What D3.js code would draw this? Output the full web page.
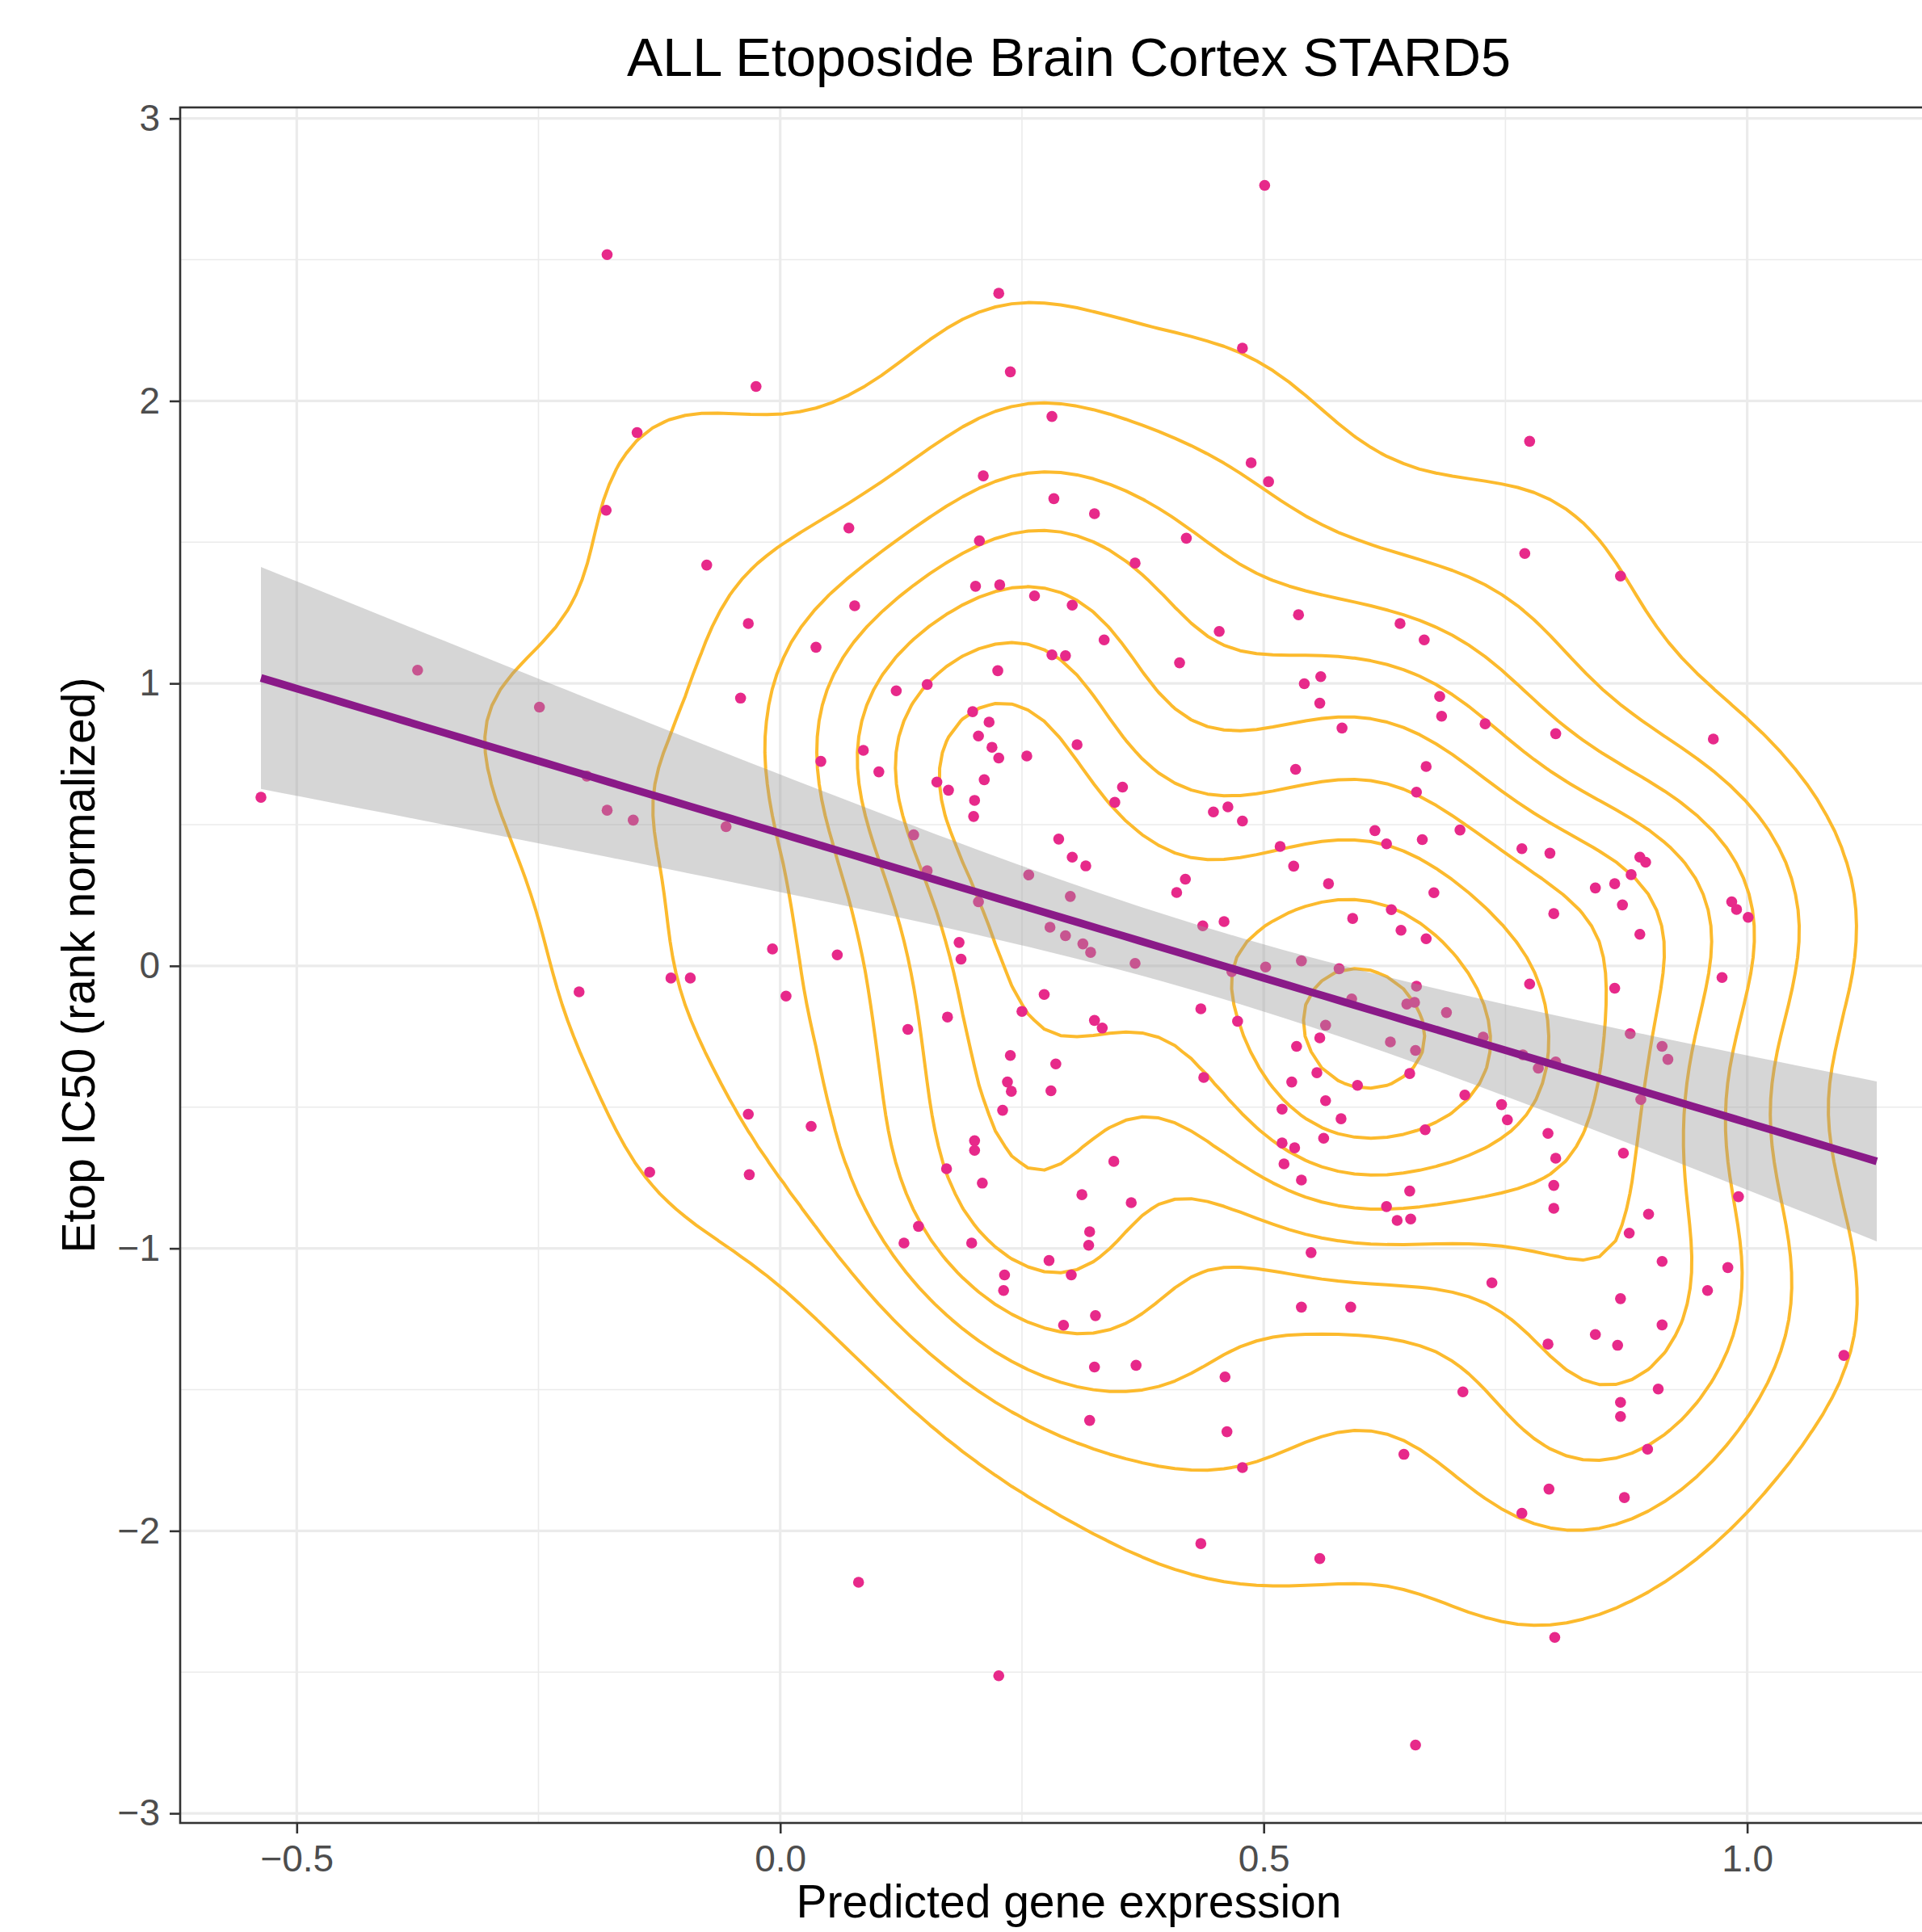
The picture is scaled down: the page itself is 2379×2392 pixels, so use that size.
<!DOCTYPE html>
<html>
<head>
<meta charset="utf-8">
<script src="https://cdn.jsdelivr.net/npm/d3@7"></script>
<style>
  body { margin: 0; background: #fff; }
  svg { display: block; font-family: "Liberation Sans", Arial, Helvetica, sans-serif; }
</style>
</head>
<body>
<svg id="chart" width="2379" height="2392"></svg>
<script>
// predicted expression (x) and rank normalised IC50 (y), one entry per cell line
var expr = [
  -0.179, -0.025, -0.148, -0.180, -0.076, -0.033, -0.041, -0.375, -0.249, -0.537,
  -0.200, -0.179, -0.152, -0.056, -0.008, -0.208, -0.113, -0.093, 0.006, -0.033,
  0.032, -0.135, -0.032, 0.081, 0.501, 0.226, 0.478, 0.238, 0.281, 0.487,
  0.505, 0.210, 0.283, 0.325, 0.071, 0.206, 0.420, 0.367, 0.077, 0.202,
  0.227, 0.263, 0.302, 0.536, 0.454, 0.335, 0.037, 0.281, 0.295, 0.413,
  0.225, 0.120, 0.152, 0.542, 0.559, 0.558, 0.775, 0.770, 0.869, 0.641,
  0.666, 0.682, 0.199, 0.216, 0.205, 0.219, 0.226, 0.255, 0.307, 0.042,
  0.086, 0.102, 0.162, 0.174, 0.211, 0.201, 0.200, 0.354, 0.346, 0.448,
  0.463, 0.478, 0.533, 0.581, 0.615, 0.138, 0.152, 0.205, 0.288, 0.302,
  0.316, 0.257, 0.300, 0.419, 0.410, 0.437, 0.459, 0.517, 0.531, 0.567,
  0.592, 0.279, 0.295, 0.313, 0.321, 0.367, 0.185, 0.187, 0.059, 0.502,
  0.539, 0.578, 0.467, 0.591, 0.564, 0.558, 0.534, 0.555, 0.529, 0.597,
  0.564, 0.580, 0.519, 0.562, 0.519, 0.532, 0.521, 0.539, 0.435, 0.473,
  0.273, 0.250, 0.325, 0.333, 0.173, 0.132, 0.238, 0.285, 0.235, 0.239,
  0.280, 0.230, 0.438, 0.201, 0.201, 0.172, 0.209, 0.345, 0.312, 0.363,
  0.143, 0.128, 0.198, 0.320, 0.319, 0.278, 0.549, 0.684, 0.729, 0.802,
  0.965, 0.668, 0.658, 0.627, 0.664, 0.703, 0.767, 0.796, 0.889, 0.895,
  0.880, 0.843, 0.863, 0.871, 0.676, 0.800, 0.889, 0.984, 0.989, 1.001,
  0.632, 0.642, 0.668, 0.775, 0.863, 0.974, 0.658, 0.656, 0.648, 0.689,
  0.631, 0.657, 0.727, 0.768, 0.784, 0.802, 0.651, 0.879, 0.912, 0.918,
  0.890, 0.708, 0.746, 0.752, 0.667, 0.794, 0.802, 0.872, 0.800, 0.800,
  0.651, 0.627, 0.638, 0.652, 0.898, 0.878, 0.991, 0.912, 0.232, 0.231,
  0.301, 0.293, 0.326, 0.539, 0.590, 0.325, 0.368, 0.460, 0.320, 0.462,
  0.478, 0.435, 0.558, 0.226, 0.980, 0.736, 0.869, 0.959, 0.912, 0.843,
  0.866, 0.794, 0.706, 0.908, 0.869, 0.869, 0.897, 0.645, 0.795, 0.873,
  0.767, 1.100, 0.801, 0.657
];
var ic50 = [
  2.518, 2.051, 1.888, 1.613, 1.419, 1.212, 0.948, 1.047, 0.916, 0.597,
  0.672, 0.551, 0.516, 0.493, 0.060, -0.092, -0.043, -0.043, -0.107, -0.525,
  -0.568, -0.730, -0.739, -2.182, 2.763, 2.381, 2.187, 2.103, 1.945, 1.781,
  1.714, 1.735, 1.654, 1.601, 1.550, 1.505, 1.514, 1.426, 1.275, 1.344,
  1.349, 1.310, 1.277, 1.243, 1.184, 1.154, 1.128, 1.101, 1.098, 1.073,
  1.045, 0.974, 0.996, 0.999, 1.024, 0.930, 1.857, 1.460, 1.380, 1.212,
  1.154, 0.954, 0.900, 0.863, 0.814, 0.774, 0.736, 0.743, 0.783, 0.724,
  0.763, 0.687, 0.651, 0.622, 0.659, 0.586, 0.529, 0.633, 0.579, 0.545,
  0.563, 0.513, 0.696, 0.842, 0.479, 0.464, 0.337, 0.227, 0.449, 0.385,
  0.354, 0.322, 0.246, 0.307, 0.260, 0.142, 0.157, 0.423, 0.353, 0.291,
  0.168, 0.137, 0.107, 0.078, 0.048, 0.009, 0.083, 0.024, 0.039, -0.004,
  0.018, -0.010, -0.020, -0.117, -0.210, -0.255, -0.285, -0.378, -0.411, -0.423,
  -0.477, -0.541, -0.507, -0.610, -0.627, -0.644, -0.701, -0.758, -0.152, -0.196,
  -0.101, -0.161, -0.193, -0.220, -0.181, -0.225, -0.317, -0.347, -0.411, -0.444,
  -0.442, -0.511, -0.395, -0.619, -0.653, -0.718, -0.769, -0.692, -0.810, -0.838,
  -0.922, -0.981, -0.981, -0.941, -0.989, -1.043, -1.015, 0.884, 0.857, 0.822,
  0.803, 0.706, 0.615, 0.432, 0.447, 0.481, 0.415, 0.399, 0.385, 0.367,
  0.323, 0.276, 0.291, 0.216, 0.259, 0.185, 0.112, 0.227, 0.200, 0.172,
  0.199, 0.126, 0.096, -0.064, -0.079, -0.041, -0.072, -0.129, -0.135, -0.165,
  -0.269, -0.299, -0.252, -0.315, -0.362, -0.340, -0.381, -0.240, -0.285, -0.331,
  -0.473, -0.457, -0.491, -0.545, -0.580, -0.593, -0.681, -0.663, -0.777, -0.858,
  -0.797, -0.852, -0.901, -0.896, -0.879, -0.946, -0.817, -1.046, -1.094, -1.149,
  -1.094, -1.272, -1.238, -1.208, -1.208, -1.420, -1.414, -1.455, -1.609, -1.649,
  -1.776, -2.045, -2.098, -2.513, -1.068, -1.122, -1.178, -1.149, -1.271, -1.305,
  -1.343, -1.339, -1.508, -1.498, -1.545, -1.595, -1.711, -1.729, -1.852, -1.882,
  -1.938, -1.379, -2.377, -2.758
];
var exprRange = [-0.537, 1.134];   // x extent of the fitted line

var xTicks = [-0.5, 0, 0.5, 1];
var xTickLabels = ["\u22120.5", "0.0", "0.5", "1.0"];
var xMinor = [-0.25, 0.25, 0.75];
var yTicks = [-3, -2, -1, 0, 1, 2, 3];
var yTickLabels = ["\u22123", "\u22122", "\u22121", "0", "1", "2", "3"];
var yMinor = [-2.5, -1.5, -0.5, 0.5, 1.5, 2.5];

var titleText = "ALL Etoposide Brain Cortex STARD5";
var xTitle = "Predicted gene expression";
var yTitle = "Etop IC50 (rank normalized)";

var svg = d3.select("#chart");
// panel box (right edge runs past the picture, as in the original crop)
var pLeft = 223, pRight = 2423, pTop = 133, pBottom = 2257;

var xPad = 0.05 * (exprRange[1] - exprRange[0]);
var xScale = d3.scaleLinear().domain([exprRange[0] - xPad, exprRange[1] + xPad]).range([pLeft, pRight]);
var yRange = d3.extent(ic50);
var yPad = 0.05 * (yRange[1] - yRange[0]);
var yScale = d3.scaleLinear().domain([yRange[0] - yPad, yRange[1] + yPad]).range([pBottom, pTop]);

svg.append("rect").attr("width", 2379).attr("height", 2392).attr("fill", "#fff");

svg.append("clipPath").attr("id", "panel")
  .append("rect").attr("x", pLeft).attr("y", pTop).attr("width", pRight - pLeft).attr("height", pBottom - pTop);

var plot = svg.append("g").attr("clip-path", "url(#panel)");

// grid, minor first
plot.selectAll(".xminor").data(xMinor).enter().append("line")
  .attr("x1", function(d) { return xScale(d); }).attr("x2", function(d) { return xScale(d); })
  .attr("y1", pTop).attr("y2", pBottom)
  .attr("stroke", "#ebebeb").attr("stroke-width", 1.6);
plot.selectAll(".yminor").data(yMinor).enter().append("line")
  .attr("y1", function(d) { return yScale(d); }).attr("y2", function(d) { return yScale(d); })
  .attr("x1", pLeft).attr("x2", pRight)
  .attr("stroke", "#ebebeb").attr("stroke-width", 1.6);
plot.selectAll(".xmajor").data(xTicks).enter().append("line")
  .attr("x1", function(d) { return xScale(d); }).attr("x2", function(d) { return xScale(d); })
  .attr("y1", pTop).attr("y2", pBottom)
  .attr("stroke", "#ebebeb").attr("stroke-width", 3.2);
plot.selectAll(".ymajor").data(yTicks).enter().append("line")
  .attr("y1", function(d) { return yScale(d); }).attr("y2", function(d) { return yScale(d); })
  .attr("x1", pLeft).attr("x2", pRight)
  .attr("stroke", "#ebebeb").attr("stroke-width", 3.2);

// 2d density like MASS::kde2d (n = 100, normal reference bandwidth)
function bandwidthNrd(v) {
  var s = v.slice().sort(d3.ascending);
  var iqr = (d3.quantileSorted(s, 0.75) - d3.quantileSorted(s, 0.25)) / 1.34;
  return 4 * 1.06 * Math.min(d3.deviation(s), iqr) * Math.pow(s.length, -0.2);
}
// R's pretty(), used by ggplot for the contour breaks
function rPretty(lo, hi, n) {
  var h = 1.5, h5 = 0.5 + 1.5 * h;
  var cell = (hi - lo) / n;
  var base = Math.pow(10, Math.floor(Math.log10(cell)));
  var unit = base;
  if (2 * base - cell < h * (cell - unit)) { unit = 2 * base;
    if (5 * base - cell < h5 * (cell - unit)) { unit = 5 * base;
      if (10 * base - cell < h * (cell - unit)) unit = 10 * base; } }
  var ns = Math.floor(lo / unit + 1e-7), nu = Math.ceil(hi / unit - 1e-7);
  return d3.range(ns, nu + 1).map(function(k) { return k * unit; });
}

var gridN = 100;
var hx = bandwidthNrd(expr) / 4, hy = bandwidthNrd(ic50) / 4;
var stepX = (exprRange[1] - exprRange[0]) / (gridN - 1);
var stepY = (yRange[1] - yRange[0]) / (gridN - 1);
var kNorm = 1 / (expr.length * hx * hy * 2 * Math.PI);
var dens = new Array(gridN * gridN);
for (var j = 0; j < gridN; j++) {
  var gy = yRange[0] + j * stepY;
  for (var i = 0; i < gridN; i++) {
    var gx = exprRange[0] + i * stepX, s = 0;
    for (var k = 0; k < expr.length; k++) {
      var u = (gx - expr[k]) / hx, v = (gy - ic50[k]) / hy;
      s += Math.exp(-0.5 * (u * u + v * v));
    }
    dens[j * gridN + i] = s * kNorm;
  }
}
var zExt = d3.extent(dens);
var breaks = rPretty(zExt[0], zExt[1], 10).filter(function(t) { return t > zExt[0] && t < zExt[1]; });
var contours = d3.contours().size([gridN, gridN]).thresholds(breaks)(dens);

var gridProj = d3.geoTransform({
  point: function(px, py) {
    this.stream.point(xScale(exprRange[0] + (px - 0.5) * stepX), yScale(yRange[0] + (py - 0.5) * stepY));
  }
});
plot.selectAll(".contour").data(contours).enter().append("path")
  .attr("class", "contour")
  .attr("d", d3.geoPath(gridProj))
  .attr("fill", "none")
  .attr("stroke", "#fcba2d")
  .attr("stroke-width", 4)
  .attr("stroke-linejoin", "round");

plot.selectAll(".dot").data(expr).enter().append("circle")
  .attr("class", "dot")
  .attr("cx", function(d) { return xScale(d); })
  .attr("cy", function(d, i) { return yScale(ic50[i]); })
  .attr("r", 6.8)
  .attr("fill", "#e7298a");

// lm fit with 95% band
var nPts = expr.length, mx = d3.mean(expr), my = d3.mean(ic50);
var sxx = d3.sum(expr, function(d) { return (d - mx) * (d - mx); });
var sxy = d3.sum(expr, function(d, i) { return (d - mx) * (ic50[i] - my); });
var slope = sxy / sxx, icpt = my - slope * mx;
var rss = d3.sum(expr, function(d, i) { var r = ic50[i] - icpt - slope * d; return r * r; });
var sigma = Math.sqrt(rss / (nPts - 2));
var tq = 1.9695;
var fit = d3.range(80).map(function(i) {
  var xv = exprRange[0] + i * (exprRange[1] - exprRange[0]) / 79;
  var f = icpt + slope * xv;
  var se = sigma * Math.sqrt(1 / nPts + (xv - mx) * (xv - mx) / sxx);
  return { x: xv, y: f, lo: f - tq * se, hi: f + tq * se };
});

plot.append("path")
  .datum(fit)
  .attr("d", d3.area()
    .x(function(d) { return xScale(d.x); })
    .y0(function(d) { return yScale(d.lo); })
    .y1(function(d) { return yScale(d.hi); }))
  .attr("fill", "#999999")
  .attr("fill-opacity", 0.4);

plot.append("path")
  .datum(fit)
  .attr("d", d3.line().x(function(d) { return xScale(d.x); }).y(function(d) { return yScale(d.y); }))
  .attr("fill", "none")
  .attr("stroke", "#8a1a88")
  .attr("stroke-width", 9.5);

svg.append("rect")
  .attr("x", pLeft).attr("y", pTop).attr("width", pRight - pLeft).attr("height", pBottom - pTop)
  .attr("fill", "none").attr("stroke", "#333333").attr("stroke-width", 2.6);

// axes
var xAxis = svg.append("g")
  .attr("transform", "translate(0," + pBottom + ")")
  .call(d3.axisBottom(xScale).tickValues(xTicks)
    .tickFormat(function(d, i) { return xTickLabels[i]; })
    .tickSize(13).tickPadding(14));
var yAxis = svg.append("g")
  .attr("transform", "translate(" + pLeft + ",0)")
  .call(d3.axisLeft(yScale).tickValues(yTicks)
    .tickFormat(function(d, i) { return yTickLabels[i]; })
    .tickSize(13).tickPadding(12));

[xAxis, yAxis].forEach(function(a) {
  a.select(".domain").remove();
  a.selectAll(".tick line").attr("stroke", "#333333").attr("stroke-width", 2.6);
  a.selectAll(".tick text")
    .attr("fill", "#4d4d4d")
    .attr("font-size", 46)
    .attr("font-family", "Liberation Sans, Arial, Helvetica, sans-serif");
});

svg.append("text")
  .attr("x", (pLeft + pRight) / 2).attr("y", 94)
  .attr("text-anchor", "middle")
  .attr("font-size", 66.5)
  .attr("fill", "#000")
  .text(titleText);

svg.append("text")
  .attr("x", (pLeft + pRight) / 2).attr("y", 2374)
  .attr("text-anchor", "middle")
  .attr("font-size", 57)
  .attr("fill", "#000")
  .text(xTitle);

svg.append("text")
  .attr("transform", "translate(117," + (pTop + pBottom) / 2 + ") rotate(-90)")
  .attr("text-anchor", "middle")
  .attr("font-size", 57)
  .attr("fill", "#000")
  .text(yTitle);
</script>
</body>
</html>
